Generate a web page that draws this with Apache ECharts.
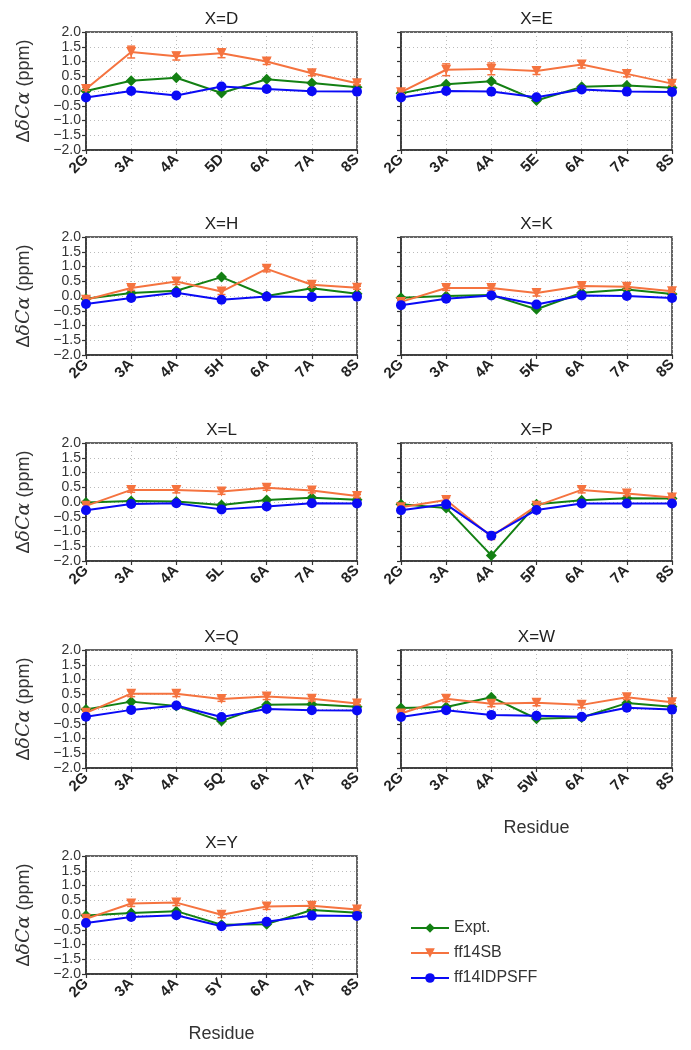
<!DOCTYPE html>
<html><head><meta charset="utf-8">
<script src="https://cdn.jsdelivr.net/npm/echarts@6/dist/echarts.min.js"></script>
<style>html,body{margin:0;padding:0;background:#fff}#c{width:691px;height:1050px}</style>
</head><body><div id="c"></div>
<script>
// ---- data ----
const titles = ['X=D','X=E','X=H','X=K','X=L','X=P','X=Q','X=W','X=Y'];
const catsD = ['2G','3A','4A','5D','6A','7A','8S'];
const catsE = ['2G','3A','4A','5E','6A','7A','8S'];
const catsH = ['2G','3A','4A','5H','6A','7A','8S'];
const catsK = ['2G','3A','4A','5K','6A','7A','8S'];
const catsL = ['2G','3A','4A','5L','6A','7A','8S'];
const catsP = ['2G','3A','4A','5P','6A','7A','8S'];
const catsQ = ['2G','3A','4A','5Q','6A','7A','8S'];
const catsW = ['2G','3A','4A','5W','6A','7A','8S'];
const catsY = ['2G','3A','4A','5Y','6A','7A','8S'];

const exptD = [0.0, 0.35, 0.45, -0.07, 0.40, 0.27, 0.13];
const sbD   = [0.07, 1.32, 1.18, 1.28, 1.0, 0.6, 0.26];
const errD  = [0.05, 0.2, 0.13, 0.15, 0.1, 0.08, 0.05];
const idpD  = [-0.22, 0.0, -0.15, 0.15, 0.07, -0.01, -0.02];

const exptE = [-0.08, 0.23, 0.33, -0.32, 0.14, 0.19, 0.11];
const sbE   = [-0.04, 0.72, 0.75, 0.68, 0.9, 0.58, 0.25];
const errE  = [0.05, 0.2, 0.2, 0.12, 0.12, 0.1, 0.06];
const idpE  = [-0.22, 0.0, -0.02, -0.21, 0.05, -0.02, -0.03];

const exptH = [-0.09, 0.1, 0.18, 0.64, 0.0, 0.26, 0.08];
const sbH   = [-0.13, 0.27, 0.49, 0.15, 0.92, 0.38, 0.28];
const errH  = [0.05, 0.08, 0.1, 0.1, 0.1, 0.08, 0.05];
const idpH  = [-0.27, -0.07, 0.11, -0.13, -0.02, -0.03, -0.02];

const exptK = [-0.06, 0.0, 0.03, -0.45, 0.11, 0.22, 0.07];
const sbK   = [-0.2, 0.27, 0.27, 0.1, 0.34, 0.31, 0.16];
const errK  = [0.05, 0.08, 0.08, 0.1, 0.08, 0.08, 0.05];
const idpK  = [-0.31, -0.09, 0.02, -0.29, 0.02, 0.0, -0.07];

const exptL = [-0.02, 0.03, 0.02, -0.1, 0.07, 0.14, 0.08];
const sbL   = [-0.13, 0.41, 0.41, 0.36, 0.48, 0.39, 0.2];
const errL  = [0.05, 0.08, 0.1, 0.1, 0.08, 0.08, 0.05];
const idpL  = [-0.28, -0.07, -0.04, -0.25, -0.15, -0.04, -0.05];

const exptP = [-0.08, -0.2, -1.81, -0.08, 0.06, 0.13, 0.12];
const sbP   = [-0.18, 0.07, -1.17, -0.13, 0.41, 0.29, 0.15];
const errP  = [0.05, 0.08, 0.1, 0.06, 0.1, 0.08, 0.05];
const idpP  = [-0.28, -0.08, -1.14, -0.27, -0.05, -0.05, -0.05];

const exptQ = [-0.02, 0.25, 0.1, -0.41, 0.14, 0.16, 0.08];
const sbQ   = [-0.13, 0.52, 0.52, 0.34, 0.42, 0.35, 0.19];
const errQ  = [0.05, 0.1, 0.1, 0.08, 0.1, 0.08, 0.05];
const idpQ  = [-0.26, -0.03, 0.12, -0.27, 0.0, -0.04, -0.05];

const exptW = [0.03, 0.07, 0.4, -0.33, -0.29, 0.2, 0.08];
const sbW   = [-0.15, 0.35, 0.18, 0.21, 0.14, 0.4, 0.23];
const errW  = [0.05, 0.1, 0.1, 0.1, 0.1, 0.08, 0.05];
const idpW  = [-0.27, -0.04, -0.2, -0.23, -0.26, 0.04, -0.02];

const exptY = [-0.02, 0.07, 0.13, -0.33, -0.31, 0.17, 0.08];
const sbY   = [-0.13, 0.39, 0.42, 0.01, 0.29, 0.31, 0.19];
const errY  = [0.05, 0.1, 0.1, 0.1, 0.1, 0.08, 0.05];
const idpY  = [-0.27, -0.07, -0.01, -0.38, -0.23, -0.02, -0.03];

const yTicks = [-2.0, -1.5, -1.0, -0.5, 0.0, 0.5, 1.0, 1.5, 2.0];
const seriesNames = ['Expt.', 'ff14SB', 'ff14IDPSFF'];

// ---- assembly ----
const panels = [
  [catsD, exptD, sbD, errD, idpD], [catsE, exptE, sbE, errE, idpE],
  [catsH, exptH, sbH, errH, idpH], [catsK, exptK, sbK, errK, idpK],
  [catsL, exptL, sbL, errL, idpL], [catsP, exptP, sbP, errP, idpP],
  [catsQ, exptQ, sbQ, errQ, idpQ], [catsW, exptW, sbW, errW, idpW],
  [catsY, exptY, sbY, errY, idpY]
];
const COL = {g: '#138013', o: '#f5733f', b: '#0a0af5'};
const FONT = "'Liberation Sans', Arial, sans-serif";
const lefts = [86, 401], tops = [32, 237, 443, 650, 856];
const W = 271, H = 118;

const grids = [], xAxes = [], yAxes = [], series = [], graphics = [];
panels.forEach((p, i) => {
  const col = i % 2, row = Math.floor(i / 2);
  const [cats, ex, sb, er, idp] = p;
  grids.push({left: lefts[col], top: tops[row], width: W, height: H,
    show: true, borderColor: '#333', borderWidth: 1.5, backgroundColor: 'transparent'});
  const showResidue = (i === 7 || i === 8);
  xAxes.push({gridIndex: i, type: 'category', data: cats, boundaryGap: false,
    axisLine: {onZero: false, lineStyle: {color: '#333', width: 1.5}},
    axisTick: {show: true, length: 4, lineStyle: {color: '#333', width: 1.2}},
    axisLabel: {rotate: 45, fontFamily: FONT, fontWeight: 'bold', fontSize: 15, color: '#222', margin: 7, interval: 0},
    splitLine: {show: true, lineStyle: {type: [1, 3], color: '#bbb', width: 1}},
    name: showResidue ? 'Residue' : '', nameLocation: 'middle', nameGap: 51,
    nameTextStyle: {fontFamily: FONT, fontSize: 18, color: '#333'}
  });
  yAxes.push({gridIndex: i, type: 'value', min: yTicks[0], max: yTicks[yTicks.length-1], interval: 0.5,
    axisLine: {show: true, lineStyle: {color: '#333', width: 1.5}},
    axisTick: {show: true, length: 4, lineStyle: {color: '#333', width: 1.2}},
    axisLabel: {show: col === 0, fontFamily: FONT, fontSize: 14, color: '#333', margin: 5,
      formatter: v => v.toFixed(1).replace('-', '\u2212')},
    splitLine: {show: true, lineStyle: {type: [1, 3], color: '#bbb', width: 1}},
    name: col === 0 ? '{a|\u0394}{b|\u03b4C\u03b1}{a| (ppm)}' : '',
    nameLocation: 'middle', nameGap: 52, nameRotate: 90,
    nameTextStyle: {color: '#333', fontSize: 18, fontFamily: FONT,
      rich: {a: {fontSize: 18, fontFamily: FONT, color: '#333'},
             b: {fontSize: 19, fontFamily: "'DejaVu Serif', serif", fontStyle: 'italic', color: '#333'}}}
  });
  series.push({name: seriesNames[0], type: 'line', xAxisIndex: i, yAxisIndex: i, data: ex,
    symbol: 'diamond', symbolSize: 11, lineStyle: {color: COL.g, width: 2},
    itemStyle: {color: COL.g}, z: 2});
  series.push({type: 'custom', xAxisIndex: i, yAxisIndex: i, z: 3, silent: true,
    data: sb.map((v, k) => [k, v - er[k], v + er[k]]),
    encode: {x: 0, y: [1, 2]},
    renderItem: (params, api) => {
      const lo = api.coord([api.value(0), api.value(1)]);
      const hi = api.coord([api.value(0), api.value(2)]);
      const cw = 4;
      const st = {stroke: COL.o, lineWidth: 1.5};
      return {type: 'group', children: [
        {type: 'line', shape: {x1: lo[0], y1: lo[1], x2: hi[0], y2: hi[1]}, style: st},
        {type: 'line', shape: {x1: lo[0]-cw, y1: lo[1], x2: lo[0]+cw, y2: lo[1]}, style: st},
        {type: 'line', shape: {x1: hi[0]-cw, y1: hi[1], x2: hi[0]+cw, y2: hi[1]}, style: st}
      ]};
    }});
  series.push({name: seriesNames[1], type: 'line', xAxisIndex: i, yAxisIndex: i, data: sb,
    symbol: 'triangle', symbolRotate: 180, symbolSize: 10, lineStyle: {color: COL.o, width: 2},
    itemStyle: {color: COL.o}, z: 3});
  series.push({name: seriesNames[2], type: 'line', xAxisIndex: i, yAxisIndex: i, data: idp,
    symbol: 'circle', symbolSize: 10, lineStyle: {color: COL.b, width: 2},
    itemStyle: {color: COL.b}, z: 4});
  graphics.push({type: 'text', x: lefts[col] + W / 2, y: tops[row] - 13,
    style: {text: titles[i], fill: '#222', font: "17px " + FONT, textAlign: 'center', textVerticalAlign: 'middle'}});
});

const chart = echarts.init(document.getElementById('c'), null, {renderer: 'canvas'});
chart.setOption({
  animation: false,
  backgroundColor: '#fff',
  grid: grids, xAxis: xAxes, yAxis: yAxes, series: series,
  graphic: graphics,
  legend: {data: seriesNames, orient: 'vertical', left: 405, top: 915, itemWidth: 38, itemHeight: 12,
    itemGap: 9, textStyle: {fontFamily: FONT, fontSize: 16, color: '#333'}, icon: 'inherit'}
});
</script></body></html>
